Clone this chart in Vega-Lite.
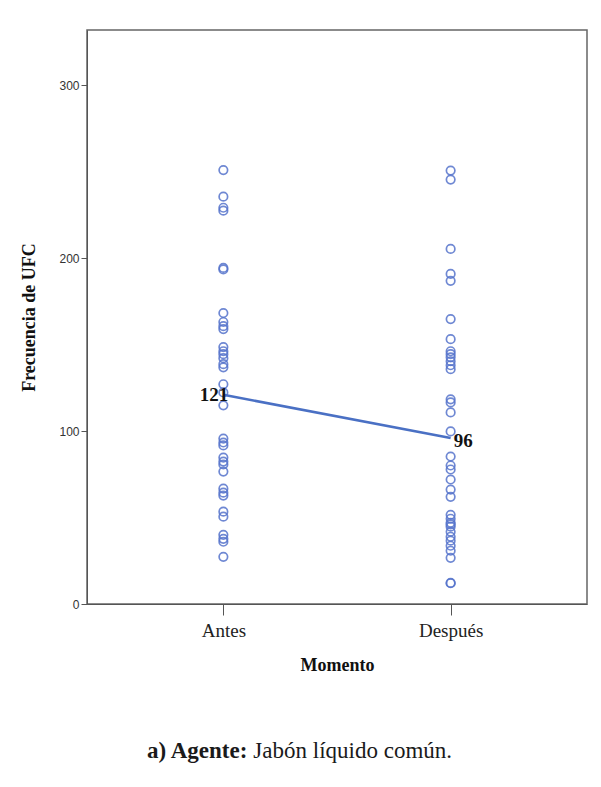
{
  "$schema": "https://vega.github.io/schema/vega-lite/v6.json",
  "width": 500,
  "height": 574,
  "autosize": {"type": "none"},
  "padding": {"left": 87, "top": 30, "right": 14, "bottom": 183},
  "background": "white",
  "config": {
    "view": {"stroke": "#666666", "strokeWidth": 1.5},
    "axis": {"grid": false, "domainColor": "#555555", "tickColor": "#555555"}
  },
  "datasets": {
    "puntos": [
      {"Momento": "Antes", "UFC": 251},
      {"Momento": "Antes", "UFC": 235.6},
      {"Momento": "Antes", "UFC": 229.2},
      {"Momento": "Antes", "UFC": 227.5},
      {"Momento": "Antes", "UFC": 194.4},
      {"Momento": "Antes", "UFC": 193.5},
      {"Momento": "Antes", "UFC": 168.3},
      {"Momento": "Antes", "UFC": 163.1},
      {"Momento": "Antes", "UFC": 160.7},
      {"Momento": "Antes", "UFC": 159},
      {"Momento": "Antes", "UFC": 148.6},
      {"Momento": "Antes", "UFC": 146.2},
      {"Momento": "Antes", "UFC": 144.5},
      {"Momento": "Antes", "UFC": 142.2},
      {"Momento": "Antes", "UFC": 138.7},
      {"Momento": "Antes", "UFC": 136.9},
      {"Momento": "Antes", "UFC": 127.1},
      {"Momento": "Antes", "UFC": 122.4},
      {"Momento": "Antes", "UFC": 114.9},
      {"Momento": "Antes", "UFC": 95.7},
      {"Momento": "Antes", "UFC": 93.4},
      {"Momento": "Antes", "UFC": 91.7},
      {"Momento": "Antes", "UFC": 84.7},
      {"Momento": "Antes", "UFC": 82.4},
      {"Momento": "Antes", "UFC": 80.7},
      {"Momento": "Antes", "UFC": 76.6},
      {"Momento": "Antes", "UFC": 66.7},
      {"Momento": "Antes", "UFC": 64.4},
      {"Momento": "Antes", "UFC": 62.7},
      {"Momento": "Antes", "UFC": 53.4},
      {"Momento": "Antes", "UFC": 50.5},
      {"Momento": "Antes", "UFC": 40},
      {"Momento": "Antes", "UFC": 37.7},
      {"Momento": "Antes", "UFC": 36},
      {"Momento": "Antes", "UFC": 27.3},
      {"Momento": "Después", "UFC": 250.7},
      {"Momento": "Después", "UFC": 245.5},
      {"Momento": "Después", "UFC": 205.4},
      {"Momento": "Después", "UFC": 190.9},
      {"Momento": "Después", "UFC": 186.9},
      {"Momento": "Después", "UFC": 164.8},
      {"Momento": "Después", "UFC": 153.2},
      {"Momento": "Después", "UFC": 146.2},
      {"Momento": "Después", "UFC": 144.5},
      {"Momento": "Después", "UFC": 142.7},
      {"Momento": "Después", "UFC": 140.4},
      {"Momento": "Después", "UFC": 138.1},
      {"Momento": "Después", "UFC": 135.8},
      {"Momento": "Después", "UFC": 118.4},
      {"Momento": "Después", "UFC": 116.6},
      {"Momento": "Después", "UFC": 110.8},
      {"Momento": "Después", "UFC": 99.8},
      {"Momento": "Después", "UFC": 85.3},
      {"Momento": "Después", "UFC": 80.1},
      {"Momento": "Después", "UFC": 77.8},
      {"Momento": "Después", "UFC": 72},
      {"Momento": "Después", "UFC": 66.2},
      {"Momento": "Después", "UFC": 62},
      {"Momento": "Después", "UFC": 51.6},
      {"Momento": "Después", "UFC": 49.3},
      {"Momento": "Después", "UFC": 47},
      {"Momento": "Después", "UFC": 46},
      {"Momento": "Después", "UFC": 44.7},
      {"Momento": "Después", "UFC": 41.8},
      {"Momento": "Después", "UFC": 38.9},
      {"Momento": "Después", "UFC": 36.6},
      {"Momento": "Después", "UFC": 33.7},
      {"Momento": "Después", "UFC": 30.8},
      {"Momento": "Después", "UFC": 26.7},
      {"Momento": "Después", "UFC": 12.2},
      {"Momento": "Después", "UFC": 12}
    ],
    "medias": [
      {"Momento": "Antes", "media": 121},
      {"Momento": "Después", "media": 96}
    ],
    "pie": [
      {"Momento": "Antes", "posicion": -85}
    ]
  },
  "layer": [
    {
      "data": {"name": "puntos"},
      "mark": {"type": "point", "shape": "circle", "filled": false, "size": 72, "strokeWidth": 1.7, "color": "#5674cc", "opacity": 0.85},
      "encoding": {
        "x": {
          "field": "Momento", "type": "nominal",
          "scale": {"type": "point", "domain": ["Antes", "Después"], "padding": 0.6},
          "axis": {
            "title": "Momento", "labelAngle": 0, "labelFont": "Liberation Serif", "labelFontSize": 19,
            "labelColor": "#222222", "tickSize": 11, "labelPadding": 6,
            "titleFont": "Liberation Serif", "titleFontSize": 18, "titleFontWeight": "bold",
            "titleColor": "#111111", "titlePadding": 16
          }
        },
        "y": {
          "field": "UFC", "type": "quantitative",
          "scale": {"domain": [0, 332], "nice": false},
          "axis": {
            "values": [0, 100, 200, 300], "title": "Frecuencia de UFC",
            "labelFont": "Liberation Sans", "labelFontSize": 12, "labelColor": "#333333",
            "tickSize": 6, "labelPadding": 2,
            "titleFont": "Liberation Serif", "titleFontSize": 18, "titleFontWeight": "bold",
            "titleColor": "#111111", "titlePadding": 20
          }
        }
      }
    },
    {
      "data": {"name": "medias"},
      "mark": {"type": "line", "color": "#4a70c4", "strokeWidth": 2.6},
      "encoding": {
        "x": {"field": "Momento", "type": "nominal"},
        "y": {"field": "media", "type": "quantitative"}
      }
    },
    {
      "data": {"name": "medias"},
      "transform": [{"filter": "datum.Momento == 'Antes'"}],
      "mark": {"type": "text", "align": "right", "baseline": "middle", "dx": 5, "font": "Liberation Serif", "fontSize": 19, "fontWeight": "bold", "color": "#111111"},
      "encoding": {
        "x": {"field": "Momento", "type": "nominal"},
        "y": {"field": "media", "type": "quantitative"},
        "text": {"field": "media", "type": "quantitative"}
      }
    },
    {
      "data": {"name": "medias"},
      "transform": [{"filter": "datum.Momento == 'Después'"}],
      "mark": {"type": "text", "align": "left", "baseline": "middle", "dx": 3, "dy": 3, "font": "Liberation Serif", "fontSize": 19, "fontWeight": "bold", "color": "#111111"},
      "encoding": {
        "x": {"field": "Momento", "type": "nominal"},
        "y": {"field": "media", "type": "quantitative"},
        "text": {"field": "media", "type": "quantitative"}
      }
    },
    {
      "data": {"name": "pie"},
      "mark": {"type": "text", "text": "a) Agente:", "align": "right", "baseline": "middle", "dx": 24, "font": "Liberation Serif", "fontSize": 23, "fontWeight": "bold", "color": "#1a1a1a"},
      "encoding": {
        "x": {"field": "Momento", "type": "nominal"},
        "y": {"field": "posicion", "type": "quantitative"}
      }
    },
    {
      "data": {"name": "pie"},
      "mark": {"type": "text", "text": "Jabón líquido común.", "align": "left", "baseline": "middle", "dx": 30, "font": "Liberation Serif", "fontSize": 23, "color": "#1a1a1a"},
      "encoding": {
        "x": {"field": "Momento", "type": "nominal"},
        "y": {"field": "posicion", "type": "quantitative"}
      }
    }
  ]
}
